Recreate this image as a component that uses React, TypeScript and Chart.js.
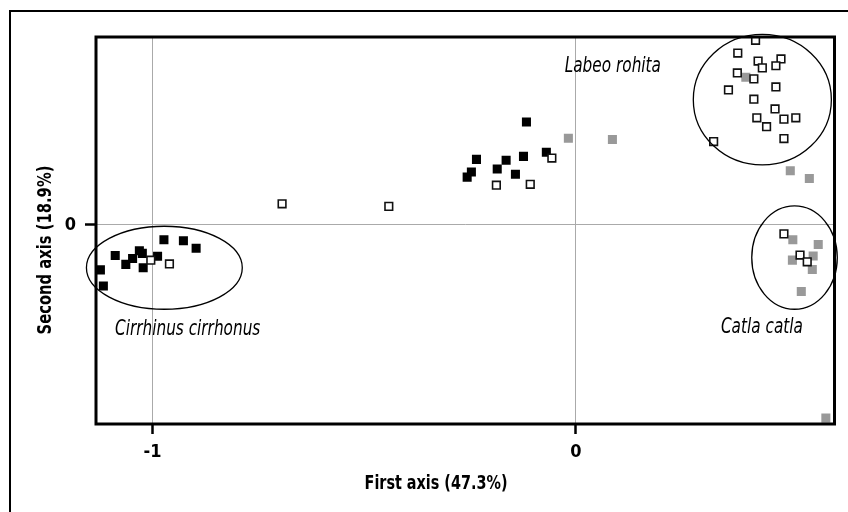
import React, { useEffect, useRef } from "react";
import { Chart, registerables } from "chart.js";

Chart.register(...registerables);

// Scatter values (first axis, second axis)
const blackX = [-1.123, -1.116, -1.088, -1.063, -1.047, -1.031, -1.024, -1.022, -0.988, -0.973, -0.927, -0.897, -0.117, -0.235, -0.165, -0.124, -0.070, -0.247, -0.257, -0.186, -0.143];
const blackY = [-0.106, -0.144, -0.072, -0.093, -0.079, -0.061, -0.067, -0.101, -0.074, -0.035, -0.037, -0.055, 0.243, 0.155, 0.153, 0.162, 0.172, 0.125, 0.113, 0.132, 0.120];

const hollowX = [-1.004, -0.960, -0.694, -0.442, -0.057, -0.188, -0.108, 0.424, 0.382, 0.430, 0.440, 0.484, 0.472, 0.381, 0.420, 0.360, 0.472, 0.420, 0.470, 0.427, 0.491, 0.519, 0.450, 0.325, 0.491, 0.491, 0.529, 0.546];
const hollowY = [-0.083, -0.092, 0.050, 0.044, 0.158, 0.094, 0.096, 0.436, 0.406, 0.387, 0.371, 0.392, 0.376, 0.359, 0.345, 0.319, 0.326, 0.297, 0.274, 0.253, 0.250, 0.253, 0.232, 0.197, 0.204, -0.021, -0.071, -0.087];

const grayX = [-0.018, 0.086, 0.401, 0.506, 0.551, 0.512, 0.572, 0.511, 0.560, 0.558, 0.532, 0.590];
const grayY = [0.205, 0.202, 0.349, 0.128, 0.110, -0.035, -0.046, -0.083, -0.073, -0.105, -0.157, -0.456];

// Group ellipses (centre x, centre y, radius x, radius y) in axis units
const ellipseCX = [-0.972, 0.440, 0.516];
const ellipseCY = [-0.101, 0.296, -0.077];
const ellipseRX = [0.184, 0.163, 0.101];
const ellipseRY = [0.098, 0.154, 0.122];

// Species labels
const speciesNames = ["Cirrhinus cirrhonus", "Labeo rohita", "Catla catla"];
const speciesX = [-0.917, 0.087, 0.439];
const speciesY = [-0.260, 0.361, -0.255];

const xTicks = [-1, 0];
const yTicks = [0];
const xTitle = "First axis (47.3%)";
const yTitle = "Second axis (18.9%)";

const FONT = '"DejaVu Sans Condensed", "DejaVu Sans", sans-serif';

const toPoints = (xs: number[], ys: number[]) => xs.map((x, i) => ({ x, y: ys[i] }));

// draws text horizontally compressed to mimic a condensed face
const drawNarrow = (ctx: any, text: string, x: number, y: number, font: string, sx: number, rot = 0) => {
  ctx.save();
  ctx.translate(x, y);
  if (rot) ctx.rotate(rot);
  ctx.scale(sx, 1);
  ctx.font = font;
  ctx.textAlign = "center";
  ctx.textBaseline = "alphabetic";
  ctx.fillStyle = "#000";
  ctx.fillText(text, 0, 0);
  ctx.restore();
};

const decorPlugin = {
  id: "decor",
  afterDraw(chart: any) {
    const ctx = chart.ctx;
    const area = chart.chartArea;
    const xs = chart.scales.x;
    const ys = chart.scales.y;
    ctx.save();
    // outer border (left & top)
    ctx.strokeStyle = "#000";
    ctx.lineWidth = 2;
    ctx.beginPath();
    ctx.moveTo(10, 520);
    ctx.lineTo(10, 11);
    ctx.lineTo(860, 11);
    ctx.stroke();
    // plot frame
    ctx.lineWidth = 3;
    ctx.strokeRect(area.left, area.top, area.right - area.left, area.bottom - area.top);
    // ellipses
    ctx.lineWidth = 1.3;
    for (let i = 0; i < ellipseCX.length; i++) {
      const cx = xs.getPixelForValue(ellipseCX[i]);
      const cy = ys.getPixelForValue(ellipseCY[i]);
      const rx = Math.abs(xs.getPixelForValue(ellipseCX[i] + ellipseRX[i]) - cx);
      const ry = Math.abs(ys.getPixelForValue(ellipseCY[i] + ellipseRY[i]) - cy);
      ctx.beginPath();
      ctx.ellipse(cx, cy, rx, ry, 0, 0, Math.PI * 2);
      ctx.stroke();
    }
    ctx.restore();
    // species labels
    for (let i = 0; i < speciesNames.length; i++) {
      drawNarrow(ctx, speciesNames[i], xs.getPixelForValue(speciesX[i]), ys.getPixelForValue(speciesY[i]), `italic 21px ${FONT}`, 0.81);
    }
    // axis titles
    drawNarrow(ctx, xTitle, 436, 489, `bold 20px ${FONT}`, 0.8);
    drawNarrow(ctx, yTitle, 51, 250, `bold 20px ${FONT}`, 0.82, -Math.PI / 2);
  },
};

export default function App() {
  const ref = useRef<HTMLCanvasElement | null>(null);
  useEffect(() => {
    if (!ref.current) return;
    const chart = new Chart(ref.current, {
      type: "scatter",
      data: {
        datasets: [
          {
            label: "hollow",
            data: toPoints(hollowX, hollowY),
            pointStyle: "rect",
            pointRadius: 5.4,
            pointBackgroundColor: "#fff",
            pointBorderColor: "#111",
            pointBorderWidth: 1.6,
          },
          {
            label: "gray",
            data: toPoints(grayX, grayY),
            pointStyle: "rect",
            pointRadius: 6.4,
            pointBackgroundColor: "#999999",
            pointBorderWidth: 0,
          },
          {
            label: "black",
            data: toPoints(blackX, blackY),
            pointStyle: "rect",
            pointRadius: 6.4,
            pointBackgroundColor: "#000",
            pointBorderWidth: 0,
          },
        ],
      },
      options: {
        responsive: false,
        animation: false,
        events: [],
        layout: { padding: { left: 0, top: 37, right: 13.5, bottom: 0 } },
        plugins: { legend: { display: false }, tooltip: { enabled: false } },
        scales: {
          x: {
            type: "linear",
            min: -1.1334,
            max: 0.6104,
            afterBuildTicks: (s: any) => {
              s.ticks = xTicks.map((v) => ({ value: v }));
            },
            afterFit: (s: any) => {
              s.height = 88;
            },
            grid: { color: "#aaaaaa", lineWidth: 1, tickLength: 10, tickColor: "#000", tickWidth: 2.5 },
            border: { display: false },
            ticks: { color: "#000", font: { family: FONT, size: 18, weight: "bold" }, padding: 8, callback: (v: any) => String(v) },
          },
          y: {
            type: "linear",
            min: -0.4699,
            max: 0.4439,
            afterBuildTicks: (s: any) => {
              s.ticks = yTicks.map((v) => ({ value: v }));
            },
            afterFit: (s: any) => {
              s.width = 96;
            },
            grid: { color: "#aaaaaa", lineWidth: 1, tickLength: 11, tickColor: "#000", tickWidth: 2.5 },
            border: { display: false },
            ticks: { color: "#000", font: { family: FONT, size: 18, weight: "bold" }, padding: 9, callback: (v: any) => String(v) },
          },
        },
      },
      plugins: [decorPlugin],
    });
    return () => chart.destroy();
  }, []);
  return (
    <div style={{ position: "fixed", left: 0, top: 0, width: 848, height: 512, background: "#fff" }}>
      <canvas ref={ref} width={848} height={512} style={{ display: "block" }} />
    </div>
  );
}
